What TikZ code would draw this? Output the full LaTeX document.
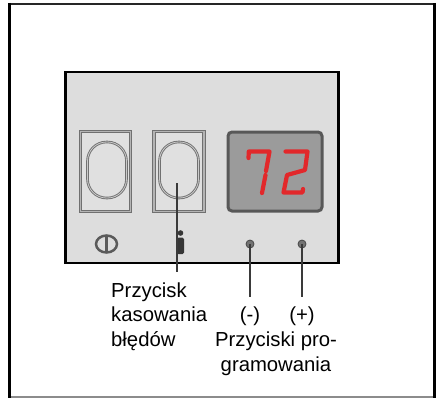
\documentclass[tikz,border=0pt]{standalone}
\usepackage{fontspec}
\setmainfont{Liberation Sans}
\definecolor{panelgray}{HTML}{DDDDDD}
\definecolor{keyrim}{HTML}{707070}
\definecolor{keyband}{HTML}{B4B4B4}
\definecolor{keyface}{HTML}{E0E0E0}
\definecolor{lcdface}{HTML}{9B9B9B}
\definecolor{lcdrim}{HTML}{585858}
\definecolor{segred}{HTML}{E2282B}
\definecolor{iconink}{HTML}{5A5A5A}
\definecolor{leader}{HTML}{3A3A3A}
\begin{document}
\begin{tikzpicture}[x=1bp,y=-1bp,
  panelbox/.style={draw=black,line width=2.5bp,fill=panelgray,minimum width=273bp,minimum height=191bp,inner sep=0},
  keybox/.style={draw=keyrim,double=keyband,double distance=1.4bp,line width=1bp,fill=keyface,minimum width=50bp,minimum height=80bp,inner sep=0},
  keyoval/.style={draw=keyrim,double=keyband!70!white,double distance=0.8bp,line width=0.9bp,fill=keyface,rounded corners=19bp,minimum width=39bp,minimum height=56bp,inner sep=0},
  lcdbox/.style={draw=lcdrim,line width=3bp,fill=lcdface,rounded corners=4bp,minimum width=94bp,minimum height=79bp,inner sep=0},
  segment/.style={draw=segred,line width=4.2bp,line join=round,line cap=round},
  led/.style={circle,draw=iconink!80!black,fill=iconink!85!white,line width=0.8bp,minimum size=8bp,inner sep=0},
  leaderline/.style={draw=leader,line width=1.1bp},
  caption/.style={font=\fontsize{20.3bp}{24.3bp}\selectfont,text=black,inner xsep=0}
]
\useasboundingbox (0,0) rectangle (440,398);

% outer frame
\draw[black!85,line width=1.6bp] (9.5,4) -- (434,4);
\draw[black!45,line width=1.2bp] (9.5,397) -- (434,397);
\draw[black,line width=3bp] (9.5,2.8) -- (9.5,398);
\draw[black,line width=3bp] (434,2.8) -- (434,398);

% control panel
\node[panelbox] (panel) at (202,167.5) {};

% push buttons
\node[keybox] (key1) at (105.5,171.5) {};
\node[keyoval] (oval1) at (107,170) {};
\node[keybox] (key2) at (179,171.5) {};
\node[keyoval] (oval2) at (179,170) {};
\coordinate (errpin) at (177,183);

% temperature display
\node[lcdbox] (lcd) at (275,171.5) {};
\draw[segment] (248.5,158) -- (248.8,151.5) -- (269.5,151.5) -- (266,171);
\draw[segment] (265.5,175) -- (262,193);
\draw[segment] (285.5,151.5) -- (307.5,151.5) -- (305,170) -- (287,175) -- (283.5,192.5) -- (302.5,192.5) -- (303,189);

% symbols under the buttons
\draw[iconink,line width=2.5bp] (106.5,244) ellipse [x radius=10.5bp,y radius=8.5bp];
\draw[iconink,line width=2.5bp] (106.5,235) -- (106.5,253);
\fill[iconink!60!black] (180.5,233) circle [radius=2.8bp];
\fill[iconink!60!black,rounded corners=1.5bp] (177,237.5) rectangle (184,254);

% programming keys
\node[led] (dminus) at (250,244) {};
\node[led] (dplus) at (302,244) {};

% captions (base anchor of a multi-line node sits on its last line)
\node[caption,align=left,anchor=base west,inner ysep=10.5bp] (errlabel) at (111,346) {Przycisk\\kasowania\\błędów};
\node[caption,anchor=base,inner ysep=9bp] (minuslabel) at (250,321) {(-)};
\node[caption,anchor=base,inner ysep=9bp] (pluslabel) at (302,321) {(+)};
\node[caption,align=center,anchor=base] (proglabel) at (276,371) {Przyciski pro-\\gramowania};

% leader lines
\draw[leaderline] (errpin) -- (errpin |- errlabel.north);
\draw[leaderline] (dminus.center) -- (dminus.center |- minuslabel.north);
\draw[leaderline] (dplus.center) -- (dplus.center |- pluslabel.north);
\end{tikzpicture}
\end{document}
